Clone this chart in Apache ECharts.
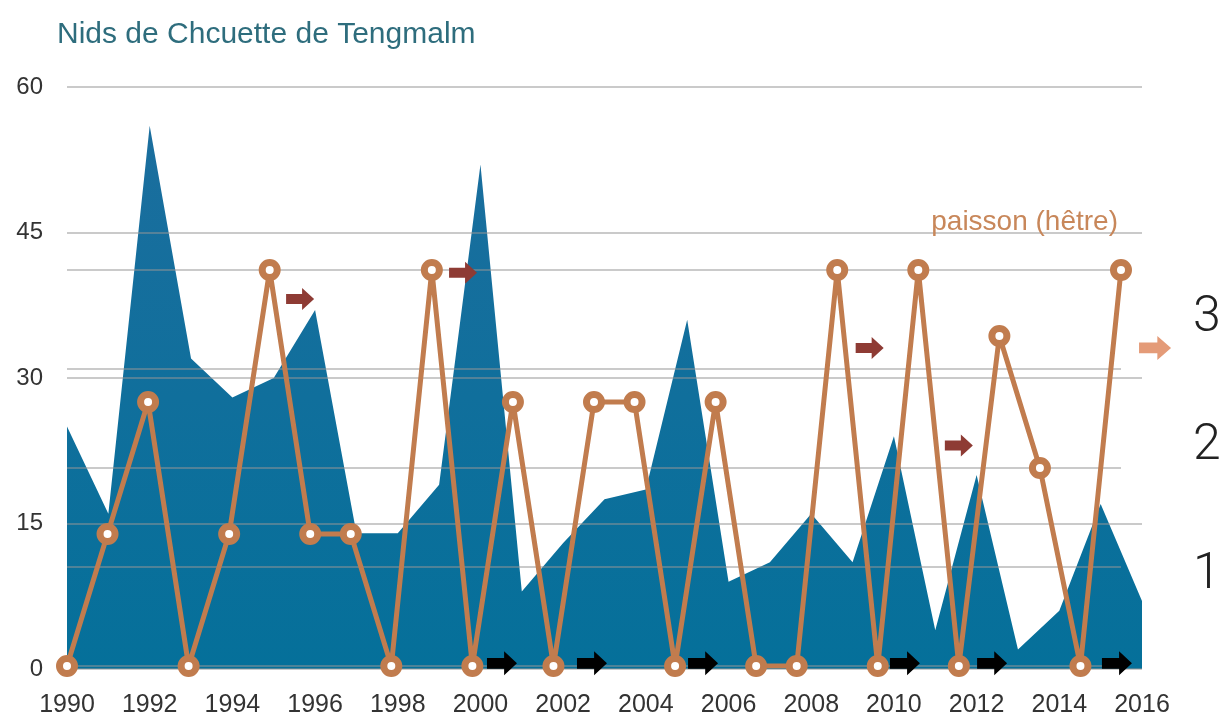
<!DOCTYPE html>
<html>
<head>
    <meta charset="utf-8"/>
    <title>Nids de Chouette de Tengmalm</title>
    <script src="https://cdn.jsdelivr.net/npm/echarts@6/dist/echarts.min.js"></script>
    <style>
        html, body { margin: 0; padding: 0; background: #fff; }
        #main { width: 1227px; height: 718px; }
    </style>
</head>
<body>
<div id="main"></div>
<script type="text/javascript">
    // nids par annee
    var years = ['1990','1991','1992','1993','1994','1995','1996','1997','1998','1999','2000','2001','2002',
        '2003','2004','2005','2006','2007','2008','2009','2010','2011','2012','2013','2014','2015','2016'];
    var nids = [25, 16, 56, 32, 28, 30, 37, 14, 14, 19, 52, 8, 13,
        17.5, 18.5, 36, 9, 11, 16, 11, 24, 4, 20, 2, 6, 17, 7];

    // paisson du hetre (0 a 3)
    var paissonYears = [1990,1991,1992,1993,1994,1995,1996,1997,1998,1999,2000,2001,2002,
        2003,2004,2005,2006,2007,2008,2009,2010,2011,2012,2013,2014,2015,2016];
    var paisson = [0, 1, 2, 0, 1, 3, 1, 1, 0, 3, 0, 2, 0,
        2, 2, 0, 2, 0, 0, 3, 0, 3, 0, 2.5, 1.5, 0, 3];

    // fleches
    var redArrows = [[1995.75, 2.78], [1999.77, 2.98], [2009.8, 2.41], [2012.0, 1.67]];
    var pinkArrows = [[2016.84, 2.41]];
    var blackArrows = [[2000.73, 0.02], [2002.95, 0.02], [2005.69, 0.02], [2010.67, 0.02], [2012.82, 0.02], [2015.9, 0.02]];

    var rightLabels = [1, 2, 3];

    var orange = '#c17c4e';
    var gridColor = 'rgba(150,150,150,0.5)';
    var arrowPath = 'path://M0,6 L16,6 L16,0 L28,11 L16,22 L16,16 L0,16 Z';

    var myChart = echarts.init(document.getElementById('main'));

    var option = {
        animation: false,
        title: [{
            text: 'Nids de Chcuette de Tengmalm',
            left: 52,
            top: 15,
            textStyle: {fontFamily: 'Liberation Sans', fontSize: 30, fontWeight: 'normal', color: '#2e6d7d'}
        }, {
            text: 'paisson (hêtre)',
            right: 104,
            top: 203,
            textStyle: {fontFamily: 'Liberation Sans', fontSize: 28, fontWeight: 'normal', color: '#c8875a'}
        }],
        grid: [
            {left: 67, right: 85, top: 87, bottom: 46},
            {left: 67, right: 106, top: 270, bottom: 52},
            {left: 1150, right: 40, top: 318, bottom: 14}
        ],
        xAxis: [{
            gridIndex: 0,
            type: 'category',
            boundaryGap: false,
            data: years,
            axisLine: {show: false},
            axisTick: {show: false},
            axisLabel: {interval: 1, margin: 24, fontSize: 25, color: '#333', fontFamily: 'Liberation Sans'}
        }, {
            gridIndex: 1,
            type: 'value',
            min: 1990,
            max: 2016,
            show: false
        }, {
            gridIndex: 2,
            type: 'value',
            min: 0,
            max: 1,
            show: false
        }],
        yAxis: [{
            gridIndex: 0,
            type: 'value',
            min: 0,
            max: 60,
            interval: 15,
            z: 3,
            axisLine: {show: false},
            axisTick: {show: false},
            axisLabel: {margin: 24, fontSize: 24, color: '#333', fontFamily: 'Liberation Sans'},
            splitLine: {lineStyle: {color: gridColor, width: 2}}
        }, {
            gridIndex: 1,
            type: 'value',
            min: 0,
            max: 3,
            interval: 0.75,
            z: 3,
            axisLine: {show: false},
            axisTick: {show: false},
            axisLabel: {show: false},
            splitLine: {lineStyle: {color: gridColor, width: 2}}
        }, {
            gridIndex: 2,
            type: 'value',
            position: 'right',
            min: 0,
            max: 3,
            interval: 1,
            axisLine: {show: false},
            axisTick: {show: false},
            splitLine: {show: false},
            axisLabel: {
                showMinLabel: false,
                margin: 6,
                fontSize: 50,
                fontFamily: 'Roboto',
                fontWeight: 300,
                color: '#222',
                formatter: function (v) { return rightLabels.indexOf(v) >= 0 ? String(v) : ''; }
            }
        }],
        series: [{
            name: 'nids',
            type: 'line',
            xAxisIndex: 0,
            yAxisIndex: 0,
            data: nids,
            symbol: 'none',
            lineStyle: {width: 0},
            areaStyle: {
                opacity: 1,
                color: {
                    type: 'linear', x: 0, y: 0, x2: 0, y2: 1,
                    colorStops: [{offset: 0, color: '#1b6e9e'}, {offset: 1, color: '#05709a'}]
                }
            },
            z: 2
        }, {
            name: 'paisson',
            type: 'line',
            xAxisIndex: 1,
            yAxisIndex: 1,
            data: paissonYears.map(function (y, i) { return [y, paisson[i]]; }),
            symbol: 'circle',
            symbolSize: 15,
            showAllSymbol: true,
            lineStyle: {color: orange, width: 5},
            itemStyle: {color: '#fff', borderColor: orange, borderWidth: 7},
            z: 4
        }, {
            name: 'fleches rouges',
            type: 'scatter',
            xAxisIndex: 1,
            yAxisIndex: 1,
            data: redArrows,
            symbol: arrowPath,
            symbolSize: [28, 22],
            clip: false,
            itemStyle: {color: '#8e3b34', opacity: 1},
            z: 5
        }, {
            name: 'fleche rose',
            type: 'scatter',
            xAxisIndex: 1,
            yAxisIndex: 1,
            data: pinkArrows,
            symbol: arrowPath,
            symbolSize: [32, 24],
            clip: false,
            itemStyle: {color: '#e49b78', opacity: 1},
            z: 5
        }, {
            name: 'fleches noires',
            type: 'scatter',
            xAxisIndex: 1,
            yAxisIndex: 1,
            data: blackArrows,
            symbol: arrowPath,
            symbolSize: [30, 24],
            clip: false,
            itemStyle: {color: '#000', opacity: 1},
            z: 5
        }]
    };

    myChart.setOption(option);
</script>
</body>
</html>
